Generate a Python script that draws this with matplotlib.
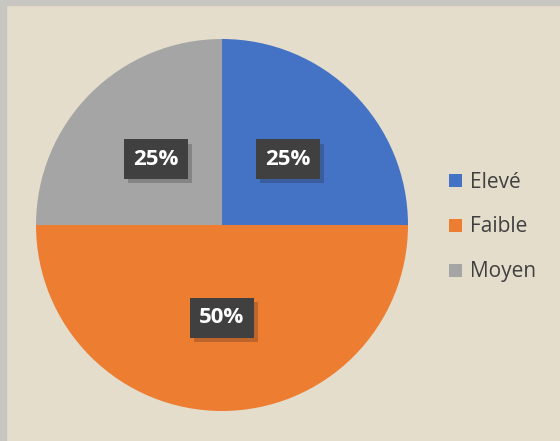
import matplotlib.pyplot as plt
from matplotlib.patches import Rectangle
import matplotlib.patheffects as pe

# data
labels = ["Elevé", "Faible", "Moyen"]
values = [25, 50, 25]
colors = ["#4472C4", "#ED7D31", "#A5A5A5"]

W, H = 560, 441
fig = plt.figure(figsize=(W/100, H/100), dpi=100)
fig.patch.set_facecolor("#e4ddcc")

# grey frame on top/left edge
fig.patches.append(Rectangle((0, 0), 6/W, 1, transform=fig.transFigure, color="#c8c6c1", zorder=-1))
fig.patches.append(Rectangle((0, 1-5/H), 1, 5/H, transform=fig.transFigure, color="#c8c6c1", zorder=-1))

r = 186
cx, cy = 222, H - 225
ax = fig.add_axes([(cx-r)/W, (cy-r)/H, 2*r/W, 2*r/H])
ax.set_facecolor("none")

wedges, texts, autotexts = ax.pie(values, colors=colors, startangle=90, counterclock=False,
                                  autopct="%1.0f%%", pctdistance=0.5, radius=1,
                                  wedgeprops=dict(linewidth=0))
ax.set_xlim(-1, 1)
ax.set_ylim(-1, 1)
ax.set_aspect("equal")

for t in autotexts:
    t.set_color("white")
    t.set_fontproperties(dict(family="Open Sans", weight="bold", size=16))
    t.set_bbox(dict(boxstyle="square,pad=0.42", facecolor="#404040", edgecolor="none"))
    t.get_bbox_patch().set_path_effects([pe.SimplePatchShadow(offset=(3, -3), alpha=0.22), pe.Normal()])

leg = fig.legend(wedges, labels, loc="center left", bbox_to_anchor=(449/W, 214/H),
                 frameon=False, borderpad=0, borderaxespad=0,
                 handlelength=0.6, handleheight=0.6, handletextpad=0.4,
                 labelspacing=1.15, prop=dict(family="Open Sans", size=15))
for t in leg.get_texts():
    t.set_color("#404040")

fig.savefig("out.png", dpi=100, facecolor=fig.get_facecolor())
